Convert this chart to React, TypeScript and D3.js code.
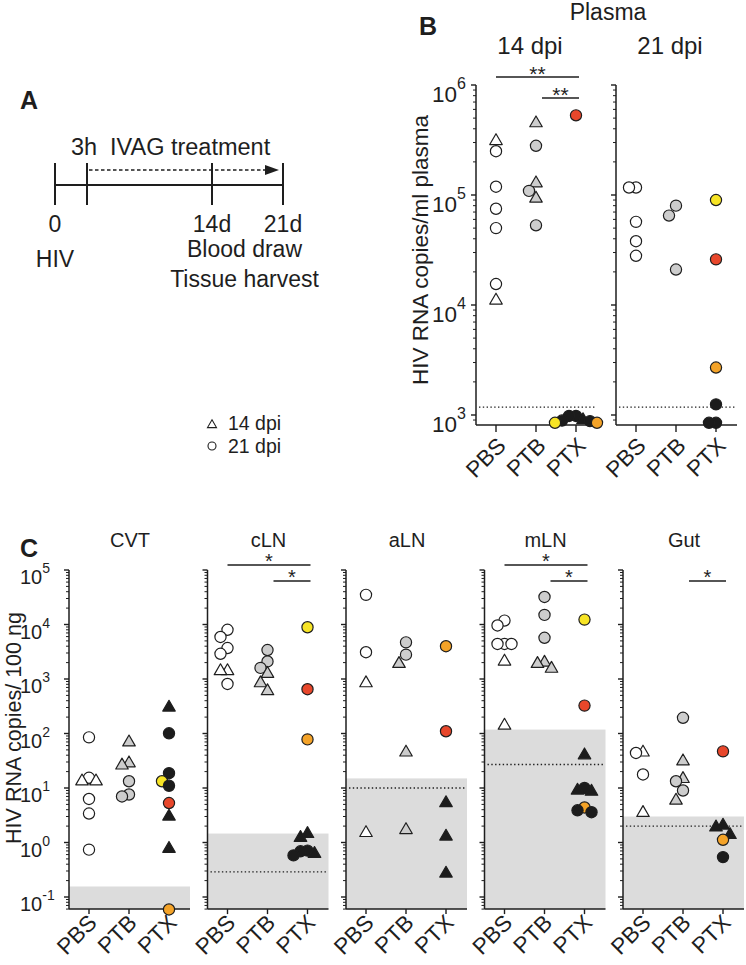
import * as d3 from "d3";
import React, { useEffect } from "react";

type Pt = { cat: string; value: number; shape: "c" | "t"; animal?: string };

const groups = ["PBS", "PTB", "PTX"];

// Panel B, plasma viral load
const plasma14: Pt[] = [
  { cat: "PBS", value: 3.1e5, shape: "t" },
  { cat: "PBS", value: 2.5e5, shape: "c" },
  { cat: "PBS", value: 1.19e5, shape: "c" },
  { cat: "PBS", value: 7.5e4, shape: "c" },
  { cat: "PBS", value: 5.0e4, shape: "c" },
  { cat: "PBS", value: 1.55e4, shape: "c" },
  { cat: "PBS", value: 1.1e4, shape: "t" },
  { cat: "PTB", value: 4.5e5, shape: "t" },
  { cat: "PTB", value: 2.8e5, shape: "c" },
  { cat: "PTB", value: 1.28e5, shape: "t" },
  { cat: "PTB", value: 1.09e5, shape: "c" },
  { cat: "PTB", value: 9.3e4, shape: "t" },
  { cat: "PTB", value: 5.3e4, shape: "c" },
  { cat: "PTX", value: 5.3e5, shape: "c", animal: "R" },
  { cat: "PTX", value: 980, shape: "c", animal: "K" },
  { cat: "PTX", value: 980, shape: "c", animal: "K" },
  { cat: "PTX", value: 900, shape: "t", animal: "K" },
  { cat: "PTX", value: 890, shape: "c", animal: "K" },
  { cat: "PTX", value: 880, shape: "c", animal: "K" },
  { cat: "PTX", value: 850, shape: "c", animal: "Y" },
  { cat: "PTX", value: 850, shape: "c", animal: "O" },
];

const plasma21: Pt[] = [
  { cat: "PBS", value: 1.17e5, shape: "c" },
  { cat: "PBS", value: 1.17e5, shape: "c" },
  { cat: "PBS", value: 5.7e4, shape: "c" },
  { cat: "PBS", value: 3.8e4, shape: "c" },
  { cat: "PBS", value: 2.8e4, shape: "c" },
  { cat: "PTB", value: 8.0e4, shape: "c" },
  { cat: "PTB", value: 6.5e4, shape: "c" },
  { cat: "PTB", value: 2.1e4, shape: "c" },
  { cat: "PTX", value: 9.0e4, shape: "c", animal: "Y" },
  { cat: "PTX", value: 2.6e4, shape: "c", animal: "R" },
  { cat: "PTX", value: 2.7e3, shape: "c", animal: "O" },
  { cat: "PTX", value: 1.25e3, shape: "c", animal: "K" },
  { cat: "PTX", value: 850, shape: "c", animal: "K" },
  { cat: "PTX", value: 850, shape: "c", animal: "K" },
];

// Panel C, tissue viral RNA
const cvt: Pt[] = [
  { cat: "PBS", value: 85, shape: "c" },
  { cat: "PBS", value: 15.4, shape: "c" },
  { cat: "PBS", value: 13.3, shape: "t" },
  { cat: "PBS", value: 13.3, shape: "t" },
  { cat: "PBS", value: 6.3, shape: "c" },
  { cat: "PBS", value: 3.4, shape: "c" },
  { cat: "PBS", value: 0.74, shape: "c" },
  { cat: "PTB", value: 69, shape: "t" },
  { cat: "PTB", value: 28.5, shape: "t" },
  { cat: "PTB", value: 26, shape: "t" },
  { cat: "PTB", value: 13.3, shape: "c" },
  { cat: "PTB", value: 7.6, shape: "c" },
  { cat: "PTB", value: 7.0, shape: "c" },
  { cat: "PTX", value: 300, shape: "t", animal: "K" },
  { cat: "PTX", value: 101, shape: "c", animal: "K" },
  { cat: "PTX", value: 18.7, shape: "c", animal: "K" },
  { cat: "PTX", value: 13.3, shape: "c", animal: "Y" },
  { cat: "PTX", value: 11, shape: "c", animal: "K" },
  { cat: "PTX", value: 5.3, shape: "c", animal: "R" },
  { cat: "PTX", value: 3.0, shape: "t", animal: "K" },
  { cat: "PTX", value: 0.77, shape: "t", animal: "K" },
  { cat: "PTX", value: 0.059, shape: "c", animal: "O" },
];

const cln: Pt[] = [
  { cat: "PBS", value: 8.0e3, shape: "c" },
  { cat: "PBS", value: 5.9e3, shape: "c" },
  { cat: "PBS", value: 3.7e3, shape: "c" },
  { cat: "PBS", value: 2.9e3, shape: "c" },
  { cat: "PBS", value: 1.4e3, shape: "t" },
  { cat: "PBS", value: 1.4e3, shape: "t" },
  { cat: "PBS", value: 810, shape: "c" },
  { cat: "PTB", value: 3.4e3, shape: "c" },
  { cat: "PTB", value: 2.1e3, shape: "c" },
  { cat: "PTB", value: 1.6e3, shape: "c" },
  { cat: "PTB", value: 1.25e3, shape: "t" },
  { cat: "PTB", value: 840, shape: "t" },
  { cat: "PTB", value: 600, shape: "t" },
  { cat: "PTX", value: 8.9e3, shape: "c", animal: "Y" },
  { cat: "PTX", value: 650, shape: "c", animal: "R" },
  { cat: "PTX", value: 78, shape: "c", animal: "O" },
  { cat: "PTX", value: 1.44, shape: "t", animal: "K" },
  { cat: "PTX", value: 1.22, shape: "t", animal: "K" },
  { cat: "PTX", value: 0.71, shape: "c", animal: "K" },
  { cat: "PTX", value: 0.69, shape: "c", animal: "K" },
  { cat: "PTX", value: 0.62, shape: "t", animal: "K" },
  { cat: "PTX", value: 0.58, shape: "c", animal: "K" },
];

const aln: Pt[] = [
  { cat: "PBS", value: 3.5e4, shape: "c" },
  { cat: "PBS", value: 3.1e3, shape: "c" },
  { cat: "PBS", value: 840, shape: "t" },
  { cat: "PBS", value: 1.5, shape: "t" },
  { cat: "PTB", value: 4.7e3, shape: "c" },
  { cat: "PTB", value: 2.8e3, shape: "c" },
  { cat: "PTB", value: 1.9e3, shape: "t" },
  { cat: "PTB", value: 45, shape: "t" },
  { cat: "PTB", value: 1.7, shape: "t" },
  { cat: "PTX", value: 4.0e3, shape: "c", animal: "O" },
  { cat: "PTX", value: 110, shape: "c", animal: "R" },
  { cat: "PTX", value: 5.3, shape: "t", animal: "K" },
  { cat: "PTX", value: 1.29, shape: "t", animal: "K" },
  { cat: "PTX", value: 0.27, shape: "t", animal: "K" },
];

const mln: Pt[] = [
  { cat: "PBS", value: 1.18e4, shape: "c" },
  { cat: "PBS", value: 9.6e3, shape: "c" },
  { cat: "PBS", value: 4.4e3, shape: "c" },
  { cat: "PBS", value: 4.4e3, shape: "c" },
  { cat: "PBS", value: 4.4e3, shape: "c" },
  { cat: "PBS", value: 2.1e3, shape: "t" },
  { cat: "PBS", value: 140, shape: "t" },
  { cat: "PTB", value: 3.2e4, shape: "c" },
  { cat: "PTB", value: 1.5e4, shape: "c" },
  { cat: "PTB", value: 5.7e3, shape: "c" },
  { cat: "PTB", value: 2.0e3, shape: "t" },
  { cat: "PTB", value: 1.9e3, shape: "t" },
  { cat: "PTB", value: 1.55e3, shape: "t" },
  { cat: "PTX", value: 1.23e4, shape: "c", animal: "Y" },
  { cat: "PTX", value: 325, shape: "c", animal: "R" },
  { cat: "PTX", value: 40, shape: "t", animal: "K" },
  { cat: "PTX", value: 10, shape: "c", animal: "K" },
  { cat: "PTX", value: 9.0, shape: "t", animal: "K" },
  { cat: "PTX", value: 8.6, shape: "t", animal: "K" },
  { cat: "PTX", value: 4.4, shape: "c", animal: "O" },
  { cat: "PTX", value: 3.9, shape: "c", animal: "K" },
  { cat: "PTX", value: 3.6, shape: "c", animal: "K" },
];

const gut: Pt[] = [
  { cat: "PBS", value: 45, shape: "t" },
  { cat: "PBS", value: 44, shape: "c" },
  { cat: "PBS", value: 17.7, shape: "c" },
  { cat: "PBS", value: 3.5, shape: "t" },
  { cat: "PTB", value: 194, shape: "c" },
  { cat: "PTB", value: 31, shape: "t" },
  { cat: "PTB", value: 14.7, shape: "t" },
  { cat: "PTB", value: 13.3, shape: "c" },
  { cat: "PTB", value: 9.0, shape: "c" },
  { cat: "PTB", value: 5.9, shape: "t" },
  { cat: "PTX", value: 47, shape: "c", animal: "R" },
  { cat: "PTX", value: 2.05, shape: "t", animal: "K" },
  { cat: "PTX", value: 1.9, shape: "t", animal: "K" },
  { cat: "PTX", value: 1.38, shape: "t", animal: "K" },
  { cat: "PTX", value: 1.12, shape: "c", animal: "O" },
  { cat: "PTX", value: 0.54, shape: "c", animal: "K" },
];

const tissueNames = ["CVT", "cLN", "aLN", "mLN", "Gut"];
const tissueData = [cvt, cln, aln, mln, gut];
// upper limit of detection (shaded) and mean background (dotted), copies/100 ng
const tissueShade = [0.156, 1.46, 15, 118, 3.0];
const tissueLod = [null, 0.29, 10, 27, 2.0];

const plasmaNames = ["14 dpi", "21 dpi"];
const plasmaData = [plasma14, plasma21];
const plasmaLod = 1180;

type Sig = { from: string; to: string; level: number; label: string };
const plasmaSig: Sig[][] = [
  [
    { from: "PBS", to: "PTX", level: 0, label: "**" },
    { from: "PTB", to: "PTX", level: 1, label: "**" },
  ],
  [],
];
const tissueSig: Sig[][] = [
  [],
  [
    { from: "PBS", to: "PTX", level: 0, label: "*" },
    { from: "PTB", to: "PTX", level: 1, label: "*" },
  ],
  [],
  [
    { from: "PBS", to: "PTX", level: 0, label: "*" },
    { from: "PTB", to: "PTX", level: 1, label: "*" },
  ],
  [{ from: "PTB", to: "PTX", level: 1, label: "*" }],
];

const timeDays = [0, 0.125, 14, 21];
const timeLabels = ["0", "", "14d", "21d"];

const FONT = "'Liberation Sans', Arial, Helvetica, sans-serif";
const INK = "#1e1e1e";

const animalColor: Record<string, string> = {
  Y: "#f7e425",
  R: "#e8472b",
  O: "#f4a328",
  K: "#1c1c1c",
};
const fillOf = (p: Pt) =>
  p.cat === "PBS" ? "#ffffff" : p.cat === "PTB" ? "#cdcdcd" : animalColor[p.animal || "K"];

const triPath = (s: number) => {
  const h = (s * Math.sqrt(3)) / 2;
  return `M0,${(-h * 2) / 3}L${s / 2},${h / 3}L${-s / 2},${h / 3}Z`;
};

function logTicks(lo: number, hi: number) {
  const out: { v: number; major: boolean; e: number }[] = [];
  for (let e = Math.floor(Math.log10(lo)); e <= Math.ceil(Math.log10(hi)); e++) {
    for (let m = 1; m <= 9; m++) {
      const v = m * Math.pow(10, e);
      if (v >= lo * 0.999 && v <= hi * 1.001) out.push({ v, major: m === 1, e });
    }
  }
  return out;
}

function dodge(pts: Pt[], xs: d3.ScalePoint<string>, y: d3.ScaleLogarithmic<number, number>) {
  const out: (Pt & { px: number; py: number })[] = [];
  const order = [0, -1, 1, -2, 2, -3, 3, -4, 4];
  groups.forEach((cat) => {
    const list = pts.filter((p) => p.cat === cat).sort((a, b) => b.value - a.value);
    const placed: { slot: number; py: number }[] = [];
    list.forEach((p) => {
      const py = y(p.value);
      const slot =
        order.find((k) => !placed.some((q) => q.slot === k && Math.abs(q.py - py) < 10)) ?? 0;
      placed.push({ slot, py });
      out.push({ ...p, px: (xs(cat) as number) + slot * 7, py });
    });
  });
  return out;
}

type PanelProps = {
  x0: number;
  y: d3.ScaleLogarithmic<number, number>;
  floor: number;
  pts: Pt[];
  shade?: number | null;
  lod?: number | null;
  sig: Sig[];
  sigY: number;
  labels: boolean;
  big: boolean;
};

function Panel({ x0, y, floor, pts, shade, lod, sig, sigY, labels, big }: PanelProps) {
  const xs = d3.scalePoint<string>().domain(groups).range([x0 + 20, x0 + 100]);
  const xEnd = x0 + 121;
  const top = y.domain()[1];
  const bottom = y(floor);
  const ticks = logTicks(floor, top);
  const placed = dodge(pts, xs, y);
  const fs = big ? 22.5 : 20;
  const sup = big ? 16 : 14;
  const xfs = 22.5;
  const r = 5.6;
  return (
    <g>
      {shade != null && (
        <rect x={x0} y={y(shade)} width={xEnd - x0} height={bottom - y(shade)} fill="#dcdcdc" />
      )}
      {lod != null && (
        <line
          x1={x0 + 3}
          x2={xEnd - 2}
          y1={y(lod)}
          y2={y(lod)}
          stroke={INK}
          strokeWidth={1.3}
          strokeDasharray="1.4,2.4"
        />
      )}
      {/* y axis */}
      <line x1={x0} x2={x0} y1={y(top)} y2={bottom} stroke={INK} strokeWidth={1.5} />
      {ticks.map((t, i) => (
        <line
          key={i}
          x1={x0 - (t.major ? 5 : 3)}
          x2={x0}
          y1={y(t.v)}
          y2={y(t.v)}
          stroke={INK}
          strokeWidth={t.major ? 1.4 : 1}
        />
      ))}
      {labels &&
        ticks
          .filter((t) => t.major)
          .map((t, i) => (
            <text
              key={i}
              x={x0 - (big ? 44 : 49)}
              y={y(t.v) + (big ? 17 : 14)}
              fontSize={fs}
              fill={INK}
            >
              10
              <tspan dy={big ? -13 : -11} fontSize={sup}>
                {t.e}
              </tspan>
            </text>
          ))}
      {/* x axis */}
      <line x1={x0} x2={xEnd} y1={bottom} y2={bottom} stroke={INK} strokeWidth={1.5} />
      {groups.map((g) => (
        <g key={g}>
          <line
            x1={xs(g)}
            x2={xs(g)}
            y1={bottom}
            y2={bottom + (big ? 7 : 5)}
            stroke={INK}
            strokeWidth={1.4}
          />
          <text
            transform={`translate(${(xs(g) as number) + (big ? 11 : 9)},${bottom + (big ? 22 : 15)}) rotate(-45)`}
            textAnchor="end"
            fontSize={xfs}
            fill={INK}
          >
            {g}
          </text>
        </g>
      ))}
      {/* points */}
      {placed.map((p, i) =>
        p.shape === "c" ? (
          <circle key={i} cx={p.px} cy={p.py} r={r} fill={fillOf(p)} stroke={INK} strokeWidth={1.2} />
        ) : (
          <path
            key={i}
            d={triPath(12.5)}
            transform={`translate(${p.px},${p.py})`}
            fill={fillOf(p)}
            stroke={INK}
            strokeWidth={1.2}
            strokeLinejoin="round"
          />
        )
      )}
      {/* significance */}
      {sig.map((s, i) => {
        const a = (xs(s.from) as number) + (s.level ? 6 : 0);
        const b = (xs(s.to) as number) + 3;
        const yy = sigY + s.level * (big ? 21 : 16);
        return (
          <g key={i}>
            <line x1={a} x2={b} y1={yy} y2={yy} stroke={INK} strokeWidth={1.4} />
            <text x={(a + b) / 2} y={yy + (big ? 4 : 3)} textAnchor="middle" fontSize={big ? 21 : 20} fill={INK}>
              {s.label}
            </text>
          </g>
        );
      })}
    </g>
  );
}

export default function App() {
  useEffect(() => {
    document.body.style.margin = "0";
  }, []);

  const W = 746;
  const H = 965;

  // Panel A timeline (schematic, not to scale)
  const tx = d3.scaleLinear().domain(timeDays).range([55, 87, 212, 283]);
  const lineY = 185;

  // Panel B
  const yB = d3.scaleLog().domain([1e3, 1e6]).range([415, 85]);
  const plasmaX = d3.scalePoint<string>().domain(plasmaNames).range([476, 616]);

  // Panel C
  const yC = d3.scaleLog().domain([0.1, 1e5]).range([897, 570]);
  const tissueX = d3.scalePoint<string>().domain(tissueNames).range([69, 623]);

  return (
    <svg
      width={W}
      height={H}
      viewBox={`0 0 ${W} ${H}`}
      style={{ display: "block", background: "#fff", fontFamily: FONT }}
    >
      {/* ---- A ---- */}
      <text x={20} y={109} fontSize={25} fontWeight="bold" fill={INK}>
        A
      </text>
      <line x1={tx(0)} x2={tx(21)} y1={lineY} y2={lineY} stroke={INK} strokeWidth={2} />
      {timeDays.map((d) => (
        <line key={d} x1={tx(d)} x2={tx(d)} y1={lineY - 22} y2={lineY + 20} stroke={INK} strokeWidth={2} />
      ))}
      <line
        x1={tx(0.125) + 2}
        x2={tx(21) - 16}
        y1={170}
        y2={170}
        stroke={INK}
        strokeWidth={1.3}
        strokeDasharray="3.5,2.5"
      />
      <path d={`M${tx(21) - 4},170L${tx(21) - 18},165L${tx(21) - 18},175Z`} fill={INK} />
      <text x={tx(0.125) - 3} y={155} fontSize={23.5} textAnchor="middle" fill={INK}>
        3h
      </text>
      <text x={110} y={155} fontSize={23.5} fill={INK}>
        IVAG treatment
      </text>
      {timeDays.map((d, i) =>
        timeLabels[i] ? (
          <text key={d} x={tx(d)} y={232} fontSize={23} textAnchor="middle" fill={INK}>
            {timeLabels[i]}
          </text>
        ) : null
      )}
      <text x={tx(0)} y={267} fontSize={23} textAnchor="middle" fill={INK}>
        HIV
      </text>
      <text x={(tx(14) + tx(21)) / 2 - 3} y={257} fontSize={23} textAnchor="middle" fill={INK}>
        Blood draw
      </text>
      <text x={(tx(14) + tx(21)) / 2 - 3} y={287} fontSize={23} textAnchor="middle" fill={INK}>
        Tissue harvest
      </text>

      {/* legend */}
      <path d={triPath(9)} transform="translate(212,425)" fill="#fff" stroke={INK} strokeWidth={1.1} />
      <text x={228} y={430} fontSize={19.5} fill={INK}>
        14 dpi
      </text>
      <circle cx={212} cy={446} r={4} fill="#fff" stroke={INK} strokeWidth={1.1} />
      <text x={228} y={453} fontSize={19.5} fill={INK}>
        21 dpi
      </text>

      {/* ---- B ---- */}
      <text x={419} y={35} fontSize={25} fontWeight="bold" fill={INK}>
        B
      </text>
      <text x={608} y={20} fontSize={23} textAnchor="middle" fill={INK}>
        Plasma
      </text>
      <text
        transform="translate(428,250) rotate(-90)"
        textAnchor="middle"
        fontSize={22.5}
        fill={INK}
      >
        HIV RNA copies/ml plasma
      </text>
      {plasmaNames.map((n, i) => {
        const x0 = plasmaX(n) as number;
        return (
          <g key={n}>
            <text x={x0 + 54} y={54} fontSize={24} textAnchor="middle" fill={INK}>
              {n}
            </text>
            <Panel
              x0={x0}
              y={yB}
              floor={810}
              pts={plasmaData[i]}
              lod={plasmaLod}
              sig={plasmaSig[i]}
              sigY={77}
              labels={i === 0}
              big
            />
          </g>
        );
      })}

      {/* ---- C ---- */}
      <text x={20} y={557} fontSize={25} fontWeight="bold" fill={INK}>
        C
      </text>
      <text
        transform="translate(21,728) rotate(-90)"
        textAnchor="middle"
        fontSize={21.5}
        fill={INK}
      >
        HIV RNA copies/ 100 ng
      </text>
      {tissueNames.map((n, i) => {
        const x0 = tissueX(n) as number;
        return (
          <g key={n}>
            <text x={x0 + 61} y={547} fontSize={20} textAnchor="middle" fill={INK}>
              {n}
            </text>
            <Panel
              x0={x0}
              y={yC}
              floor={0.06}
              pts={tissueData[i]}
              shade={tissueShade[i]}
              lod={tissueLod[i]}
              sig={tissueSig[i]}
              sigY={565}
              labels={i === 0}
              big={false}
            />
          </g>
        );
      })}
    </svg>
  );
}
